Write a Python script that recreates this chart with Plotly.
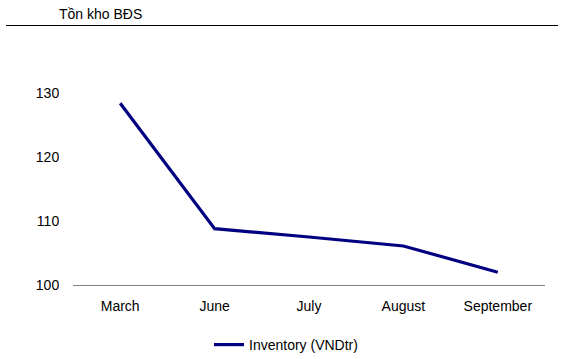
import plotly.graph_objects as go

categories = ["March", "June", "July", "August", "September"]
inventory = [128.4, 108.8, 107.5, 106.1, 102.0]
y_ticks = [100, 110, 120, 130]
series_name = "Inventory (VNDtr)"
title_text = "Tồn kho BĐS"

W, H = 562, 359
L, R, T, B = 73, 17, 93, 74
pw, ph = W - L - R, H - T - B

fig = go.Figure()
fig.add_trace(go.Scatter(
    x=categories, y=inventory, mode="lines", name=series_name,
    line=dict(color="#000080", width=3.2),
))

font = dict(family="Liberation Sans, Arial, sans-serif", size=14, color="#000000")

fig.update_layout(
    width=W, height=H,
    margin=dict(l=L, r=R, t=T, b=B, pad=0, autoexpand=False),
    paper_bgcolor="white", plot_bgcolor="white",
    font=font,
    showlegend=True,
    legend=dict(orientation="h", x=(286 - L) / pw, xanchor="center",
                y=(285 - 345) / ph, yanchor="middle",
                font=dict(size=14), itemwidth=30),
    xaxis=dict(range=[-0.5, 4.5], automargin=False,
               showgrid=False, zeroline=False, showline=True,
               linecolor="#808080", linewidth=1,
               ticks="outside", ticklen=8, tickcolor="rgba(0,0,0,0)",
               tickfont=dict(size=14)),
    yaxis=dict(range=[100, 130], tickvals=y_ticks, showgrid=False,
               automargin=False, zeroline=False, showline=False,
               ticks="outside", ticklen=10, tickcolor="rgba(0,0,0,0)",
               tickfont=dict(size=14)),
    shapes=[dict(type="line", xref="paper", yref="paper",
                 x0=(6 - L) / pw, x1=(558 - L) / pw,
                 y0=(T + ph - 25.5) / ph, y1=(T + ph - 25.5) / ph,
                 line=dict(color="#000000", width=1))],
    annotations=[dict(text=title_text, xref="paper", yref="paper",
                      x=(57 - L) / pw, y=(285 - 14) / ph,
                      xanchor="left", yanchor="middle", showarrow=False,
                      font=dict(size=14))],
)

fig.write_html("out.html", config={"displayModeBar": False},
               post_script="document.body.style.margin='0';document.body.style.overflow='hidden';")
